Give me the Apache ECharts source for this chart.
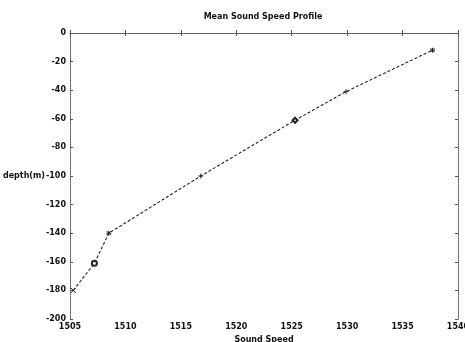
<!DOCTYPE html>
<html><head><meta charset="utf-8">
<script src="https://cdn.jsdelivr.net/npm/echarts@6/dist/echarts.min.js"></script>
<style>html,body{margin:0;padding:0;background:#fff}#c{width:465px;height:342px}</style>
</head><body><div id="c"></div>
<script>
const soundSpeed = [1505.3, 1507.2, 1508.5, 1516.8, 1525.3, 1529.9, 1537.7];
const depth = [-180, -161, -140, -100, -61, -41, -12];
const markers = ['path://M0,0L10,10M10,0L0,10', 'emptyCircle', 'path://M5,0L5,10M0,5L10,5M1,1L9,9M9,1L1,9', 'path://M5,0L5,10M0,5L10,5', 'emptyDiamond', 'path://M5,0L5,10M0,5L10,5', 'path://M5,0L5,10M0,5L10,5M1,1L9,9M9,1L1,9'];
const xTicks = [1505, 1510, 1515, 1520, 1525, 1530, 1535, 1540];

const data = soundSpeed.map((s, i) => ({ value: [s, depth[i]], symbol: markers[i] }));
const lbl = { color: '#111', fontFamily: 'DejaVu Sans', fontWeight: 'bold', fontSize: 8 };
const dotted = { show: true, lineStyle: { color: '#555', type: 'dotted', width: 1 } };
const tick = { show: true, inside: true, length: 3, lineStyle: { color: '#555' } };

const chart = echarts.init(document.getElementById('c'), null, { renderer: 'canvas' });
chart.setOption({
  animation: false,
  backgroundColor: '#fff',
  title: { text: 'Mean Sound Speed Profile', left: 258, top: 8, textAlign: 'center',
    textStyle: { fontFamily: 'DejaVu Sans', fontWeight: 'bold', fontSize: 8, color: '#111' } },
  grid: { left: 70, right: 7, top: 33, bottom: 23, outerBoundsMode: 'none', containLabel: false },
  xAxis: [
    { type: 'value', min: 1505, max: 1540, interval: 5, position: 'bottom',
      name: 'Sound Speed', nameLocation: 'middle', nameGap: 15,
      nameTextStyle: { fontFamily: 'DejaVu Sans', fontWeight: 'bold', fontSize: 8, color: '#111' },
      axisLine: dotted, axisTick: tick, splitLine: { show: false },
      axisLabel: Object.assign({ margin: 4, formatter: v => xTicks.includes(v) ? String(v) : '' }, lbl) },
    { type: 'value', min: 1505, max: 1540, interval: 5, position: 'top',
      axisLine: dotted, axisTick: tick, axisLabel: { show: false }, splitLine: { show: false } }
  ],
  yAxis: [
    { type: 'value', min: -200, max: 0, interval: 20, position: 'left',
      name: 'depth(m)', nameLocation: 'middle', nameRotate: 0, nameGap: 25, nameMoveOverlap: false,
      nameTextStyle: { fontFamily: 'DejaVu Sans', fontWeight: 'bold', fontSize: 8, color: '#111' },
      axisLine: dotted, axisTick: tick, splitLine: { show: false },
      axisLabel: Object.assign({ margin: 4 }, lbl) },
    { type: 'value', min: -200, max: 0, interval: 20, position: 'right',
      axisLine: dotted, axisTick: tick, axisLabel: { show: false }, splitLine: { show: false } }
  ],
  series: [{
    type: 'line', data: data, symbolSize: 5, showAllSymbol: true,
    lineStyle: { color: '#222', width: 1.1, type: [3, 2] },
    itemStyle: { color: '#222', borderColor: '#222', borderWidth: 1 }
  }]
});
</script></body></html>
